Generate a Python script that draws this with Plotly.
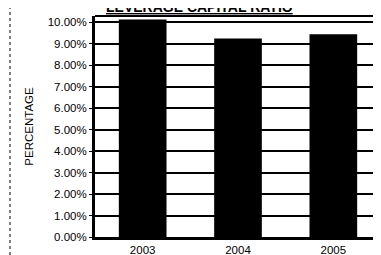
import plotly.graph_objects as go

years = ["2003", "2004", "2005"]
ratios = [10.14, 9.25, 9.45]
tick_vals = [0, 1, 2, 3, 4, 5, 6, 7, 8, 9, 10]
tick_text = ["0.00%", "1.00%", "2.00%", "3.00%", "4.00%", "5.00%",
             "6.00%", "7.00%", "8.00%", "9.00%", "10.00%"]
title_text = "LEVERAGE CAPITAL RATIO"
y_title = "PERCENTAGE"

# page body has an 8px default margin, so the figure is drawn 8px smaller
OFF = 8
W, H = 381 - OFF, 255 - OFF
L, R, T, B = 95 - OFF, 0, 16 - OFF, 18
PW, PH = W - L - R, H - T - B

fig = go.Figure(go.Bar(x=years, y=ratios, marker=dict(color="black", line=dict(width=0)), width=0.5))

font = "Liberation Sans, Arial, sans-serif"
fig.update_layout(
    width=W, height=H,
    margin=dict(l=L, r=R, t=T, b=B, autoexpand=False),
    paper_bgcolor="white", plot_bgcolor="white",
    showlegend=False,
    font=dict(family=font, color="black", size=11),
    annotations=[dict(text="<b><u>" + title_text + "</u></b>", xref="paper", yref="paper",
                      x=(199 - OFF - L) / PW, y=1 + (T + 0.5) / PH, xanchor="center", yanchor="middle",
                      showarrow=False, font=dict(size=14, family=font))],
    xaxis=dict(showgrid=False, showline=True, linecolor="black", linewidth=3,
               ticks="", tickfont=dict(size=11.5), range=[-0.5, 2.5], automargin=False),
    yaxis=dict(range=[0, 10.3], tickvals=tick_vals, ticktext=tick_text,
               showgrid=True, gridcolor="black", gridwidth=2, zeroline=False,
               showline=True, linecolor="black", linewidth=3,
               ticks="outside", ticklen=3, tickcolor="black", automargin=False,
               title=dict(text=y_title, font=dict(size=11.5), standoff=12),
               tickfont=dict(size=11.5)),
    shapes=[
        dict(type="line", xref="paper", yref="paper", x0=0, x1=1, y0=1, y1=1,
             line=dict(color="black", width=2)),
        dict(type="line", xref="paper", yref="paper", x0=(10 - OFF - L) / PW, x1=(10 - OFF - L) / PW,
             y0=-B / PH, y1=1 + T / PH, line=dict(color="black", width=1, dash="dot")),
    ],
)
fig.write_html("out.html")
